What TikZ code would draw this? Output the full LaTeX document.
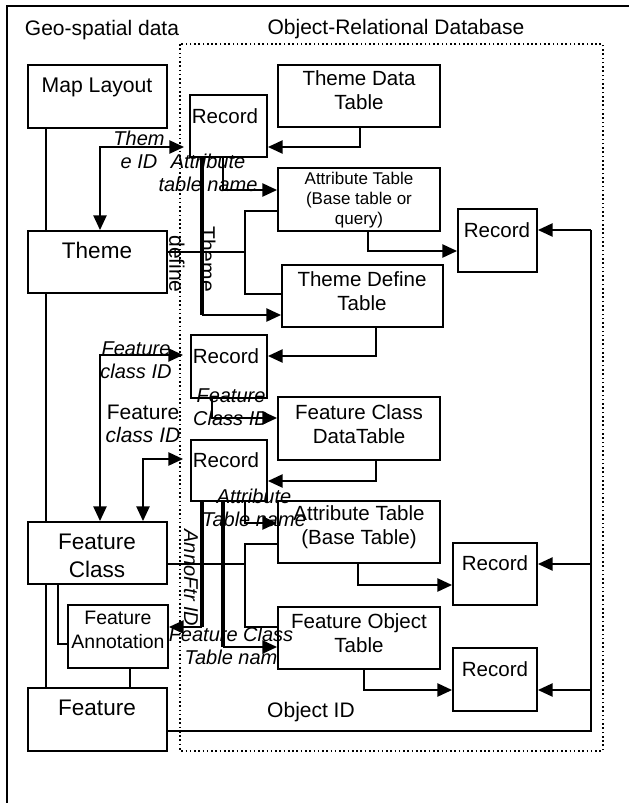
\documentclass[tikz,border=0pt]{standalone}
\usepackage{fontspec}
\setmainfont{Liberation Sans}
\usetikzlibrary{arrows.meta,fit}
\begin{document}
\begin{tikzpicture}[x=0.75pt,y=-0.75pt,
  box/.style={draw,line width=1.5pt,inner sep=0pt},
  txt/.style={font=\fontsize{15.4}{18}\selectfont,align=center,inner sep=0pt},
  bigtxt/.style={font=\fontsize{16.9}{21}\selectfont,align=center,inner sep=0pt},
  maptxt/.style={font=\fontsize{15.9}{18}\selectfont,align=center,inner sep=0pt},
  smalltxt/.style={font=\fontsize{12.75}{15}\selectfont,align=center,inner sep=0pt},
  fatxt/.style={font=\fontsize{14.6}{18}\selectfont,align=center,inner sep=0pt},
  lab/.style={font=\fontsize{15.75}{17.5}\selectfont,align=center,inner sep=0pt},
  itl/.style={font=\fontsize{15}{17}\selectfont\itshape,align=center,inner sep=0pt},
  ln/.style={line width=1.1pt},
  br/.style={line width=1.6pt},
  thk/.style={line width=3pt},
  arr/.style={ln,-{Triangle[length=11pt,width=10pt]}},
  dbl/.style={ln,{Triangle[length=11pt,width=10pt]}-{Triangle[length=11pt,width=10pt]}}
]
\useasboundingbox (0,0) rectangle (629,803);
% outer frame
\draw[line width=1.6pt] (7,803) -- (7,6) -- (629,6);
% dotted database region
\draw[dotted,line width=1.2pt] (180,44) rectangle (603,751);
% headings
\node[lab] (hgeo) at (102,30) {Geo-spatial data};
\node[lab] (hord) at (396,29) {Object-Relational Database};
% boxes
\node[box, fit={(28,65)(167,128)}] (map) {};
\node[maptxt] (tmap) at (97,87) {Map Layout};
\node[box, fit={(190,95)(267,157)}] (rec1) {};
\node[txt] (trec1) at (225,116) {Record};
\node[box, fit={(278,65)(440,127)}] (tdt) {};
\node[txt] (ttdt) at (359,90) {Theme Data\\Table};
\node[box, fit={(278,168)(440,231)}] (att1) {};
\node[smalltxt] (tatt1) at (359,200) {Attribute Table\\(Base table or\\query)};
\node[box, fit={(458,209)(537,272)}] (rec2) {};
\node[txt] (trec2) at (497,230) {Record};
\node[box, fit={(28,231)(167,293)}] (theme) {};
\node[bigtxt] (ttheme) at (97,250) {Theme};
\node[box, fit={(282,265)(443,327)}] (tdef) {};
\node[txt] (ttdef) at (362,291) {Theme Define\\Table};
\node[box, fit={(191,335)(267,398)}] (rec3) {};
\node[txt] (trec3) at (226,356) {Record};
\node[box, fit={(278,397)(440,460)}] (fcdt) {};
\node[txt] (tfcdt) at (359,424) {Feature Class\\DataTable};
\node[box, fit={(191,440)(267,501)}] (rec4) {};
\node[txt] (trec4) at (226,460) {Record};
\node[box, fit={(278,501)(440,563)}] (att2) {};
\node[txt] (tatt2) at (359,527) {Attribute Table\\(Base Table)};
\node[box, fit={(28,522)(167,584)}] (fc) {};
\node[bigtxt] (tfc) at (97,556) {Feature\\Class};
\node[box, fit={(68,605)(168,668)}] (fa) {};
\node[fatxt] (tfa) at (118,630) {Feature\\Annotation};
\node[box, fit={(28,688)(167,751)}] (feat) {};
\node[bigtxt] (tfeat) at (97,708) {Feature};
\node[box, fit={(278,607)(440,669)}] (fot) {};
\node[txt] (tfot) at (359,633) {Feature Object\\Table};
\node[box, fit={(453,543)(537,605)}] (rec5) {};
\node[txt] (trec5) at (495,563) {Record};
\node[box, fit={(453,648)(537,711)}] (rec6) {};
\node[txt] (trec6) at (495,669) {Record};
% labels
\node[itl] (l1) at (139,150) {Them\\e ID};
\node[itl] (l2) at (208,173) {Attribute\\table name};
\node[lab,rotate=-90] (l3) at (208,259) {Theme};
\node[lab,rotate=-90] (l4) at (177,264) {define};
\node[itl] (l5) at (136,360) {Feature\\class ID};
\node[lab] (l6) at (143,424) {Feature\\\textit{class ID}};
\node[itl] (l7) at (231,407) {Feature\\Class ID};
\node[itl] (l8) at (254,508) {Attribute\\Table name};
\node[itl,rotate=-90] (l9) at (191,578) {AnnoFtr ID};
\node[itl] (l10) at (231,646) {Feature Class\\Table nam};
\node[lab] (l11) at (311,712) {Object ID};
% coordinates
\coordinate (v) at (46,0);
\coordinate (j1) at (100,147); \coordinate (e1) at (184,147);
\coordinate (k2) at (360,147);
\coordinate (k3) at (223,190);
\coordinate (k4) at (202,315);
\coordinate (k5) at (245,252); \coordinate (k5a) at (245,211); \coordinate (k5b) at (245,294);
\coordinate (k6) at (368,251);
\coordinate (k7) at (376,356);
\coordinate (j10) at (100,355); \coordinate (e10) at (183,355);
\coordinate (j11) at (143,459); \coordinate (e11) at (183,459);
\coordinate (k12) at (212,418);
\coordinate (k13) at (376,481);
\coordinate (k14) at (245,523);
\coordinate (k15) at (202,627);
\coordinate (k16) at (223,647);
\coordinate (k17) at (245,564); \coordinate (k17a) at (245,544); \coordinate (k17b) at (245,627);
\coordinate (k18) at (58,644);
\coordinate (k19) at (130,0);
\coordinate (k20) at (358,585);
\coordinate (k21) at (364,690);
\coordinate (bt) at (591,230); \coordinate (b5) at (591,564); \coordinate (b6) at (591,690); \coordinate (bb) at (591,731);
% connectors
\draw[ln] (v |- map.south) -- (v |- theme.north);
\draw[ln] (v |- theme.south) -- (v |- fc.north);
\draw[ln] (v |- fc.south) -- (v |- feat.north);
\draw[dbl] (e1) -- (j1) -- (j1 |- theme.north);
\draw[arr] (k2 |- tdt.south) -- (k2) -- (k2 -| rec1.east);
\draw[arr] (k3 |- rec1.south) -- (k3) -- (k3 -| att1.west);
\draw[thk] (k4 |- rec1.south) -- (k4);
\draw[arr] (k4) -- (k4 -| tdef.west);
\draw[br] (k5 -| theme.east) -- (k5);
\draw[br] (k5a -| att1.west) -- (k5a) -- (k5b) -- (k5b -| tdef.west);
\draw[arr] (k6 |- att1.south) -- (k6) -- (k6 -| rec2.west);
\draw[arr] (k7 |- tdef.south) -- (k7) -- (k7 -| rec3.east);
\draw[dbl] (e10) -- (j10) -- (j10 |- fc.north);
\draw[dbl] (e11) -- (j11) -- (j11 |- fc.north);
\draw[arr] (k12 |- rec3.south) -- (k12) -- (k12 -| fcdt.west);
\draw[arr] (k13 |- fcdt.south) -- (k13) -- (k13 -| rec4.east);
\draw[arr] (k14 |- rec4.south) -- (k14) -- (k14 -| att2.west);
\draw[thk] (k15 |- rec4.south) -- (k15);
\draw[arr] (k15) -- (k15 -| fa.east);
\draw[thk] (k16 |- rec4.south) -- (k16);
\draw[arr] (k16) -- (k16 -| fot.west);
\draw[br] (k17 -| fc.east) -- (k17);
\draw[br] (k17a -| att2.west) -- (k17a) -- (k17b) -- (k17b -| fot.west);
\draw[ln] (k18 |- fc.south) -- (k18) -- (k18 -| fa.west);
\draw[ln] (k19 |- fa.south) -- (k19 |- feat.north);
\draw[arr] (k20 |- att2.south) -- (k20) -- (k20 -| rec5.west);
\draw[arr] (k21 |- fot.south) -- (k21) -- (k21 -| rec6.west);
\draw[ln] (feat.east |- bb) -- (bb) -- (bt);
\draw[arr] (bt) -- (bt -| rec2.east);
\draw[arr] (b5) -- (b5 -| rec5.east);
\draw[arr] (b6) -- (b6 -| rec6.east);
\end{tikzpicture}
\end{document}
